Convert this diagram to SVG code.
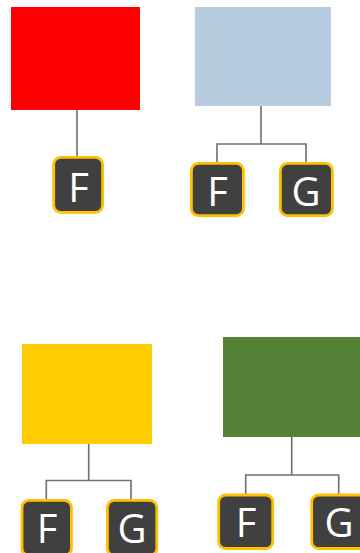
<svg xmlns="http://www.w3.org/2000/svg" width="360" height="553" viewBox="0 0 360 553">
<style>
.leaf{fill:#404040;stroke:#FFC000;stroke-width:2.8}
.lbl{fill:#ffffff;font-family:"Open Sans","Noto Sans",sans-serif;font-size:40px;text-anchor:middle}
.conn{fill:none;stroke:#6f6f6f;stroke-width:1.6}
</style>
<rect width="360" height="553" fill="#ffffff"/>
<g id="connectors">
<path class="conn" d="M77,110 V156"/>
<path class="conn" d="M261,106 V144 M217,162 V144 H306 V162"/>
<path class="conn" d="M88.7,444 V480.5 M46.3,499 V480.5 H131 V499"/>
<path class="conn" d="M291.7,437 V475 M245.7,494 V475 H338.7 V494"/>
</g>
<g id="root1"><rect x="11" y="7" width="129" height="103" fill="#FF0000"/></g>
<g id="f1"><rect class="leaf" x="53.7" y="157.4" width="48.9" height="54.9" rx="7"/><text class="lbl" x="78.5" y="201.5">F</text></g>
<g id="root2"><rect x="195" y="7" width="136" height="99" fill="#B8CCE1"/></g>
<g id="f2"><rect class="leaf" x="191.4" y="163.4" width="52" height="52.2" rx="7"/><text class="lbl" x="217.5" y="205.5">F</text></g>
<g id="g2"><rect class="leaf" x="280.4" y="163.4" width="52" height="52.2" rx="7"/><text class="lbl" x="306" y="205.5">G</text></g>
<g id="root3"><rect x="22" y="344" width="130" height="100" fill="#FFCC00"/></g>
<g id="f3"><rect class="leaf" x="22" y="500.4" width="49.4" height="55" rx="7"/><text class="lbl" x="47" y="542.7">F</text></g>
<g id="g3"><rect class="leaf" x="107.4" y="500.4" width="49.4" height="55" rx="7"/><text class="lbl" x="132" y="542.7">G</text></g>
<g id="root4"><rect x="223" y="337" width="140" height="100" fill="#538135"/></g>
<g id="f4"><rect class="leaf" x="218.7" y="495" width="54" height="53.5" rx="7"/><text class="lbl" x="246" y="536.5">F</text></g>
<g id="g4"><rect class="leaf" x="311.7" y="495" width="54" height="53.5" rx="7"/><text class="lbl" x="339" y="536.5">G</text></g>
</svg>
